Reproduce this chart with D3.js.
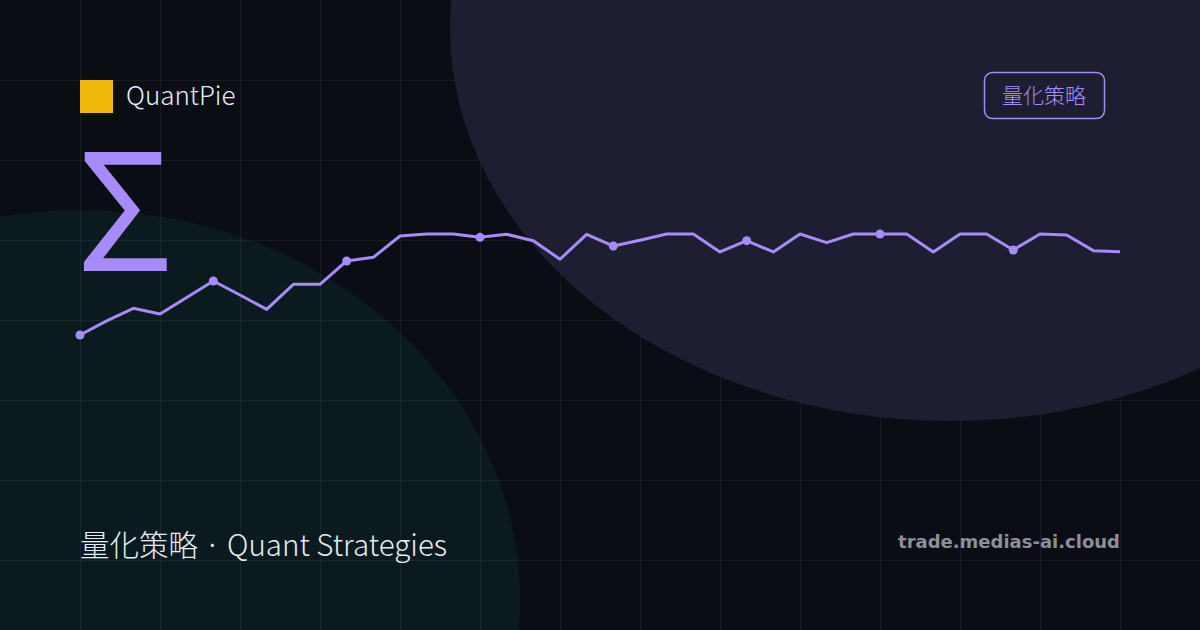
<!DOCTYPE html>
<html>
<head>
<meta charset="utf-8">
<script src="https://cdn.jsdelivr.net/npm/d3@7"></script>
<style>
  html, body { margin: 0; padding: 0; background: #0b0d14; }
  svg { display: block; }
</style>
</head>
<body>
<svg id="card" width="1200" height="630"></svg>
<script>
// Data
const equity = [0, 14, 26.4, 20.8, 37.1, 53.5, 39.6, 25.4, 50.2, 50.2,
                73.3, 76.9, 98, 100, 100, 96.7, 99.7, 93.4, 75, 99.7,
                88.1, 93.8, 100, 100, 82.2, 93.4, 82.2, 100, 91.4, 100,
                100, 100, 82.2, 100, 100, 84.2, 100, 99, 83.5, 82.5]
const periods = d3.range(equity.length)
const markerEvery = 5
const brand = 'QuantPie'
const tag = '量化策略'
const subtitle = '量化策略 · Quant Strategies'
const domainLabel = 'trade.medias-ai.cloud'

const width = 1200
const height = 630
const cjk = '"Noto Sans CJK JP", "Noto Sans CJK SC", sans-serif'
const svg = d3.select('#card')

svg.append('rect')
    .attr('width', width)
    .attr('height', height)
    .attr('fill', '#0b0d14')

// teal blob bottom left
svg.append('ellipse')
    .attr('cx', 80)
    .attr('cy', 600)
    .attr('rx', 440)
    .attr('ry', 390)
    .attr('fill', '#0a1a1e')

// background grid
const gx = d3.scaleLinear().domain([0, 15]).range([0, 1200])
const gy = d3.scaleLinear().domain([0, 7]).range([0, 560])
const grid = svg.append('g').attr('stroke', '#ffffff').attr('stroke-opacity', 0.06)
grid.selectAll('.vline')
    .data(d3.range(1, 15))
    .join('line')
    .attr('class', 'vline')
    .attr('x1', d => gx(d) + 0.5).attr('x2', d => gx(d) + 0.5)
    .attr('y1', 0).attr('y2', height)
grid.selectAll('.hline')
    .data(d3.range(1, 8))
    .join('line')
    .attr('class', 'hline')
    .attr('y1', d => gy(d) + 0.5).attr('y2', d => gy(d) + 0.5)
    .attr('x1', 0).attr('x2', width)

// purple blob top right
svg.append('ellipse')
    .attr('cx', 950)
    .attr('cy', 28)
    .attr('rx', 500)
    .attr('ry', 393)
    .attr('fill', '#1f2033')
    .attr('fill-opacity', 0.95)

// logo
svg.append('rect')
    .attr('x', 80).attr('y', 80)
    .attr('width', 33).attr('height', 33)
    .attr('fill', '#f0b90b')

svg.append('text')
    .attr('x', 126)
    .attr('y', 105)
    .attr('font-family', cjk)
    .attr('font-weight', 300)
    .attr('font-size', 26)
    .attr('fill', '#e6edf3')
    .text(brand)

svg.append('text')
    .attr('x', 76)
    .attr('y', 271)
    .attr('font-family', cjk)
    .attr('font-size', 162)
    .attr('fill', '#a78bfa')
    .text('Σ')

// tag badge
svg.append('rect')
    .attr('x', 984.5).attr('y', 72.5)
    .attr('width', 120).attr('height', 46)
    .attr('rx', 8)
    .attr('fill', 'none')
    .attr('stroke', '#a78bfa')
    .attr('stroke-width', 1.5)

svg.append('text')
    .attr('x', 1044)
    .attr('y', 103)
    .attr('text-anchor', 'middle')
    .attr('font-family', cjk)
    .attr('font-weight', 300)
    .attr('font-size', 21)
    .attr('fill', '#a78bfa')
    .text(tag)

// equity line
const xScale = d3.scaleLinear()
    .domain(d3.extent(periods))
    .range([80, 1120])

const yScale = d3.scaleLinear()
    .domain([0, 100])
    .range([335, 234])

const line = d3.line()
    .x((d, i) => xScale(periods[i]))
    .y(d => yScale(d))

svg.append('path')
    .attr('d', line(equity))
    .attr('fill', 'none')
    .attr('stroke', '#a78bfa')
    .attr('stroke-width', 3)
    .attr('stroke-linejoin', 'round')

svg.selectAll('.marker')
    .data(periods.filter(p => p % markerEvery === 0))
    .join('circle')
    .attr('class', 'marker')
    .attr('cx', d => xScale(d))
    .attr('cy', d => yScale(equity[d]))
    .attr('r', 4.5)
    .attr('fill', '#a78bfa')

// footer
svg.append('text')
    .attr('x', 80)
    .attr('y', 556)
    .attr('font-family', cjk)
    .attr('font-weight', 300)
    .attr('font-size', 29.5)
    .attr('fill', '#e6edf3')
    .text(subtitle)

svg.append('text')
    .attr('x', 1120)
    .attr('y', 548)
    .attr('text-anchor', 'end')
    .attr('font-family', '"DejaVu Sans", sans-serif')
    .attr('font-weight', 'bold')
    .attr('font-size', 18)
    .attr('fill', '#8b8f9a')
    .text(domainLabel)
</script>
</body>
</html>
